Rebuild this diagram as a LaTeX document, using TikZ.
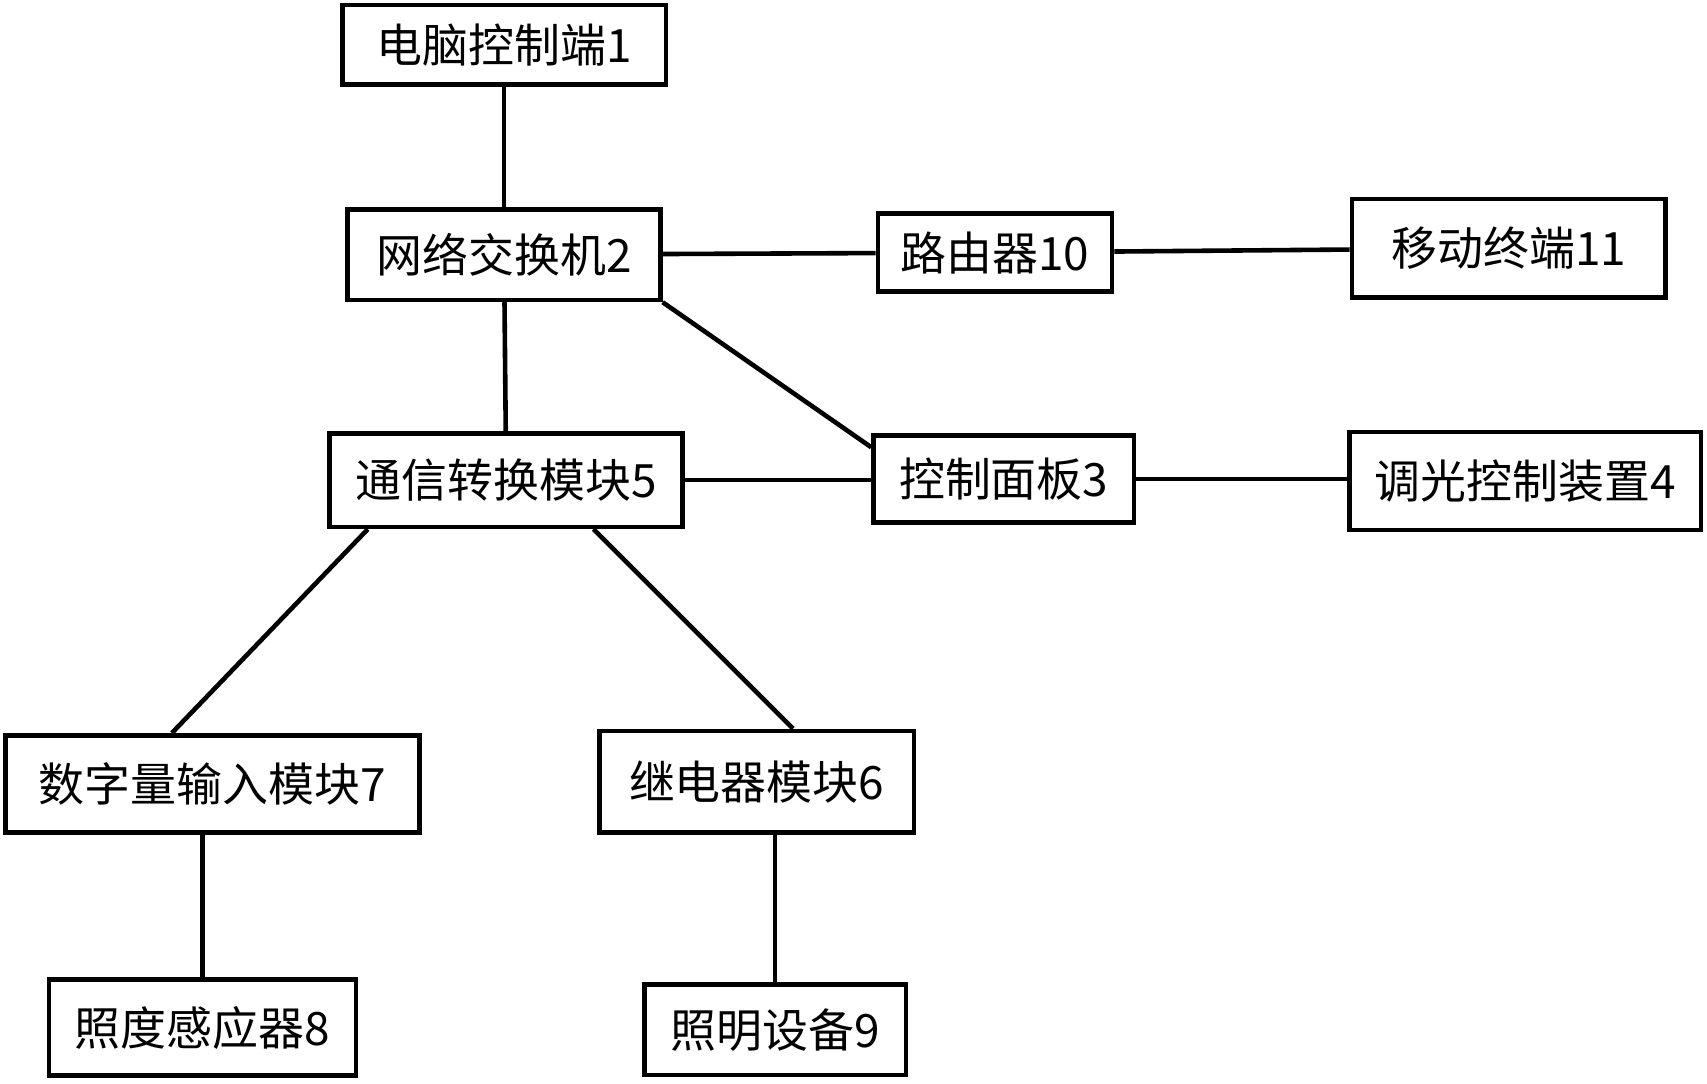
\documentclass[tikz,border=0pt]{standalone}
\usepackage{fontspec}
\setmainfont{Noto Sans CJK SC}
\usetikzlibrary{positioning}
\tikzstyle{block} = [rectangle, draw, line width=1.2pt, inner sep=0pt, font=\fontsize{12}{14}\selectfont]
\tikzstyle{line} = [draw, line width=1.2pt]

\begin{document}
\begin{tikzpicture}[x=0.01cm,y=-0.01cm]
\useasboundingbox (0,0) rectangle (1568,995);
    % Place nodes
    \node [block, minimum width=2.97cm, minimum height=0.73cm] (pc) at (463,41) {电脑控制端1};
    \node [block, minimum width=2.87cm, minimum height=0.83cm] (sw) at (463,234) {网络交换机2};
    \node [block, minimum width=2.15cm, minimum height=0.72cm] (router) at (914,232) {路由器10};
    \node [block, minimum width=2.88cm, minimum height=0.90cm] (mobile) at (1386,228) {移动终端11};
    \node [block, minimum width=2.39cm, minimum height=0.80cm] (panel) at (922,440) {控制面板3};
    \node [block, minimum width=3.23cm, minimum height=0.90cm] (dimmer) at (1401,442) {调光控制装置4};
    \node [block, minimum width=3.24cm, minimum height=0.86cm] (comm) at (465,441) {通信转换模块5};
    \node [block, minimum width=3.80cm, minimum height=0.89cm] (din) at (195,720) {数字量输入模块7};
    \node [block, minimum width=2.89cm, minimum height=0.93cm] (relay) at (695,718) {继电器模块6};
    \node [block, minimum width=2.82cm, minimum height=0.88cm] (lux) at (186,944) {照度感应器8};
    \node [block, minimum width=2.40cm, minimum height=0.83cm] (light) at (712,946) {照明设备9};

    % Draw edges
    \path [line] (pc) -- (sw);
    \path [line] (sw) -- (router);
    \path [line] (router) -- (mobile);
    \path [line] (sw.south east) -- ([yshift=-0.13cm]panel.north west);
    \path [line] (sw) -- (comm);
    \path [line] (comm.east) -- (comm.east -| panel.west);
    \path [line] (panel) -- (dimmer.west |- panel.east);
    \path [line] ([xshift=0.37cm]comm.south west) -- ([xshift=1.55cm]din.north west);
    \path [line] ([xshift=-0.84cm]comm.south east) -- ([xshift=1.8cm]relay.north west);
    \path [line] (din.south -| lux) -- (lux);
    \path [line] (relay.south -| light) -- (light);
\end{tikzpicture}
\end{document}
